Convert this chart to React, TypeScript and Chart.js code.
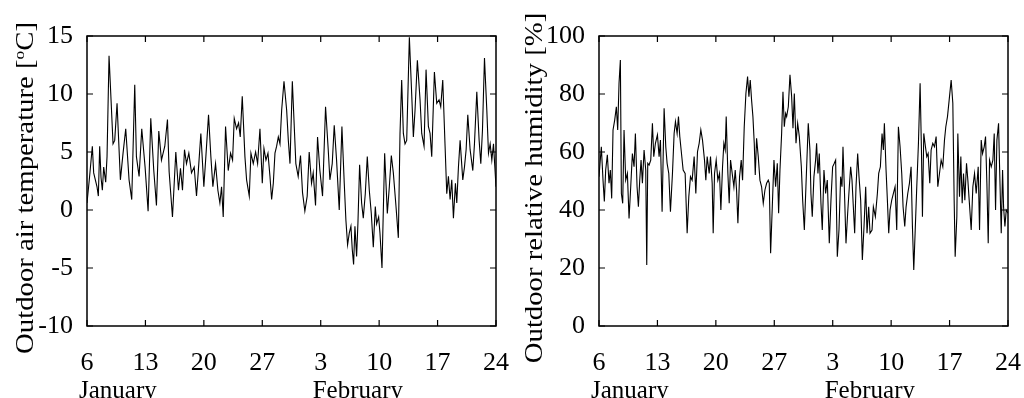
import React, { useEffect, useRef } from 'react';
import { Chart, registerables } from 'chart.js';

Chart.register(...registerables);

// ---- axis labels ----
const dayTickLabels = ['6', '13', '20', '27', '3', '10', '17', '24'];
const monthLabels = ['January', 'February'];
const monthTickDays = [0, 28];

// ---- outdoor air temperature (days after 6 January, °C) ----
const tempDays = [
  0, 0.3, 0.64, 0.8, 1.2, 1.36, 1.52, 1.68, 1.84, 2.0, 2.24, 2.4, 2.64, 3.12, 3.32, 3.6, 4.0, 4.32, 4.64, 5.04,
  5.36, 5.72, 5.92, 6.24, 6.56, 6.96, 7.32, 7.64, 8.0, 8.32, 8.6, 8.92, 9.32, 9.64, 9.84, 10.24, 10.64, 10.96, 11.2, 11.44,
  11.68, 11.92, 12.2, 12.52, 12.84, 13.12, 13.32, 13.64, 14.0, 14.24, 14.56, 14.84, 15.08, 15.4, 15.68, 15.92, 16.12, 16.32, 16.6, 16.92,
  17.2, 17.44, 17.64, 17.92, 18.16, 18.36, 18.6, 18.92, 19.12, 19.44, 19.64, 19.92, 20.2, 20.44, 20.72, 21.0, 21.2, 21.44, 21.68, 21.92,
  22.12, 22.32, 22.52, 22.72, 22.92, 23.12, 23.32, 23.6, 23.92, 24.12, 24.32, 24.6, 25.02, 25.3, 25.58, 25.82, 26.1, 26.38, 26.62, 26.9,
  27.1, 27.38, 27.62, 27.9, 28.22, 28.58, 28.9, 29.1, 29.38, 29.62, 29.9, 30.22, 30.54, 30.82, 31.02, 31.22, 31.42, 31.62, 31.78, 31.94,
  32.1, 32.3, 32.46, 32.66, 32.9, 33.1, 33.34, 33.58, 33.82, 34.06, 34.3, 34.54, 34.7, 34.94, 35.1, 35.34, 35.66, 35.98, 36.22, 36.46,
  36.7, 37.02, 37.3, 37.5, 37.7, 37.9, 38.1, 38.3, 38.62, 38.9, 39.1, 39.3, 39.58, 39.9, 40.1, 40.38, 40.62, 40.9, 41.1, 41.3,
  41.62, 41.9, 42.18, 42.38, 42.62, 42.9, 43.1, 43.3, 43.5, 43.7, 43.9, 44.14, 44.3, 44.5, 44.7, 45.02, 45.22, 45.42, 45.62, 45.9,
  46.22, 46.42, 46.7, 46.98, 47.18, 47.38, 47.62, 47.9, 48.1, 48.3, 48.5, 48.7, 48.86, 49.0,
];
const tempValues = [
  0.6, 2.8, 5.5, 3.2, 2.0, 1.2, 5.5, 2.8, 1.7, 3.7, 2.4, 4.6, 13.3, 5.7, 6.0, 9.2, 2.6, 4.9, 7.0, 2.6,
  0.9, 10.8, 4.6, 2.9, 7.0, 3.7, -0.1, 7.9, 3.4, 0.4, 6.8, 4.3, 5.5, 7.8, 3.3, -0.6, 5.0, 1.7, 3.6, 1.7,
  5.2, 4.0, 4.9, 3.2, 3.7, 1.2, 3.2, 6.6, 2.0, 4.6, 8.2, 4.6, 2.0, 4.0, 1.7, 0.6, 2.0, -0.6, 7.2, 3.4,
  4.9, 4.3, 7.9, 7.0, 7.5, 6.3, 9.8, 4.6, 2.6, 1.2, 4.9, 4.0, 5.0, 4.0, 7.0, 2.3, 5.3, 4.3, 4.9, 2.9,
  0.9, 2.3, 4.9, 5.5, 6.3, 5.7, 8.6, 11.1, 8.6, 6.0, 4.0, 11.1, 4.0, 2.9, 4.7, 1.5, -0.1, 1.2, 5.0, 2.3,
  3.2, 0.4, 6.3, 3.4, 1.2, 8.9, 5.2, 2.6, 4.0, 7.3, 4.3, 0.0, 7.2, 2.3, -0.9, -3.0, -2.0, -1.4, -3.4, -4.7,
  -1.4, -4.0, -1.1, 3.9, 0.6, -0.7, 1.4, 4.6, 1.7, -0.3, -3.2, 0.3, -1.2, -0.6, -2.0, -5.0, 4.9, -0.3, 2.0, 4.7,
  3.2, 0.3, -2.4, 6.6, 11.2, 6.6, 5.7, 6.0, 14.9, 10.0, 6.3, 8.6, 12.9, 9.5, 6.6, 5.5, 12.1, 7.2, 6.6, 4.6,
  11.9, 9.2, 9.5, 8.9, 11.2, 5.5, 1.4, 2.9, 0.9, 2.6, -0.7, 2.3, 0.6, 3.7, 6.0, 2.6, 3.7, 5.2, 8.2, 5.2,
  3.4, 5.7, 10.2, 6.0, 4.0, 6.9, 13.1, 8.6, 4.9, 5.7, 4.3, 5.7, 3.7, 2.0,
];

// ---- outdoor relative humidity (days after 6 January, %) ----
const humDays = [
  0, 0.28, 0.48, 0.64, 0.8, 1.0, 1.2, 1.36, 1.52, 1.68, 1.88, 2.08, 2.24, 2.4, 2.56, 2.68, 2.84, 3.0, 3.2, 3.4,
  3.6, 3.8, 4.0, 4.2, 4.36, 4.56, 4.72, 4.88, 5.04, 5.2, 5.4, 5.6, 5.72, 5.84, 6.0, 6.2, 6.4, 6.56, 6.76, 7.0,
  7.2, 7.36, 7.56, 7.8, 8.0, 8.16, 8.36, 8.56, 8.8, 9.0, 9.16, 9.36, 9.52, 9.68, 9.84, 10.08, 10.32, 10.56, 10.76, 10.96,
  11.16, 11.4, 11.6, 11.8, 12.0, 12.2, 12.4, 12.64, 12.8, 12.96, 13.2, 13.36, 13.56, 13.68, 13.84, 14.04, 14.24, 14.44, 14.6, 14.8,
  14.96, 15.12, 15.24, 15.44, 15.6, 15.76, 15.96, 16.16, 16.32, 16.48, 16.64, 16.84, 17.04, 17.2, 17.4, 17.6, 17.8, 17.96, 18.12, 18.28,
  18.44, 18.6, 18.72, 18.88, 19.08, 19.28, 19.48, 19.68, 19.88, 20.08, 20.28, 20.4, 20.56, 20.76, 20.96, 21.16, 21.36, 21.52, 21.68, 21.88,
  22.04, 22.2, 22.36, 22.48, 22.68, 22.88, 23.08, 23.24, 23.4, 23.6, 23.8, 24.0, 24.24, 24.4, 24.6, 24.79, 25.07, 25.27, 25.39, 25.55,
  25.75, 25.95, 26.07, 26.23, 26.39, 26.59, 26.75, 26.95, 27.15, 27.35, 27.59, 27.79, 27.99, 28.19, 28.35, 28.55, 28.75, 28.95, 29.11, 29.23,
  29.39, 29.59, 29.79, 29.99, 30.15, 30.31, 30.47, 30.63, 30.79, 30.99, 31.15, 31.35, 31.55, 31.75, 31.95, 32.11, 32.31, 32.47, 32.71, 32.87,
  33.11, 33.35, 33.51, 33.71, 33.91, 34.07, 34.19, 34.39, 34.55, 34.71, 34.87, 35.07, 35.27, 35.47, 35.67, 35.87, 36.07, 36.27, 36.43, 36.63,
  36.79, 36.99, 37.19, 37.39, 37.55, 37.71, 37.87, 38.07, 38.27, 38.47, 38.63, 38.75, 38.91, 39.11, 39.27, 39.43, 39.63, 39.79, 39.99, 40.19,
  40.39, 40.59, 40.79, 40.99, 41.19, 41.39, 41.55, 41.75, 41.95, 42.19, 42.39, 42.55, 42.67, 42.87, 42.99, 43.19, 43.35, 43.51, 43.67, 43.83,
  44.03, 44.19, 44.35, 44.59, 44.79, 44.99, 45.19, 45.43, 45.59, 45.79, 45.95, 46.15, 46.31, 46.47, 46.63, 46.79, 46.99, 47.19, 47.35, 47.51,
  47.67, 47.87, 47.99, 48.19, 48.35, 48.47, 48.63, 48.79, 49.0,
];
const humValues = [
  51.5, 61.8, 50.3, 42.9, 53.8, 59.0, 49.2, 53.8, 44.0, 67.6, 71.0, 75.6, 67.6, 83.7, 91.7, 45.7, 42.3, 67.6, 50.3, 52.6,
  37.1, 48.0, 59.5, 54.9, 66.4, 48.0, 41.1, 50.3, 57.2, 49.2, 60.7, 53.8, 21.0, 56.1, 55.5, 57.2, 69.9, 58.4, 63.0, 65.9,
  58.4, 64.1, 39.4, 75.1, 61.8, 56.1, 52.6, 39.4, 52.6, 66.4, 70.5, 66.4, 72.2, 65.3, 60.7, 53.8, 52.6, 32.0, 44.6, 51.5,
  50.3, 58.4, 45.7, 60.1, 63.0, 67.6, 64.1, 57.2, 50.3, 58.4, 52.6, 58.4, 49.2, 32.0, 52.6, 57.2, 50.3, 52.6, 40.0, 54.9,
  63.0, 60.7, 72.2, 52.6, 42.3, 57.2, 52.6, 48.0, 53.8, 46.9, 35.4, 51.5, 57.2, 50.3, 68.7, 80.2, 86.0, 79.1, 84.8, 77.9,
  72.2, 63.0, 52.1, 64.7, 58.4, 50.3, 48.0, 42.3, 46.9, 49.2, 50.3, 49.2, 25.1, 41.1, 57.2, 48.0, 56.1, 38.9, 53.8, 66.4,
  80.8, 68.7, 73.3, 72.2, 75.6, 86.6, 79.1, 68.2, 80.2, 63.0, 69.9, 65.3, 54.9, 43.4, 33.1, 48.0, 69.9, 60.7, 45.7, 37.7,
  51.5, 57.2, 63.0, 52.6, 59.5, 42.3, 33.1, 53.8, 45.7, 50.3, 28.5, 43.4, 54.9, 56.1, 57.2, 23.9, 33.1, 51.5, 48.0, 61.8,
  48.0, 28.5, 38.9, 48.0, 54.9, 50.3, 41.1, 32.0, 48.0, 59.5, 51.5, 43.4, 22.8, 34.3, 48.0, 32.0, 41.1, 32.0, 33.1, 41.1,
  37.7, 45.7, 52.6, 54.9, 66.4, 60.7, 69.9, 53.8, 43.4, 32.0, 40.0, 43.4, 45.7, 48.0, 33.1, 68.7, 61.8, 52.6, 41.1, 34.3,
  41.1, 45.7, 49.2, 54.9, 34.3, 19.3, 32.0, 48.0, 63.0, 83.7, 60.7, 37.7, 66.4, 61.8, 58.4, 59.5, 49.2, 60.7, 63.0, 61.8,
  65.3, 48.0, 52.6, 57.2, 54.9, 64.1, 68.7, 72.2, 77.9, 84.8, 76.8, 43.4, 23.9, 37.7, 66.4, 44.6, 58.4, 42.3, 52.6, 43.4,
  56.1, 50.3, 43.4, 33.1, 48.0, 52.6, 45.7, 54.9, 33.1, 64.1, 59.5, 61.8, 65.3, 49.2, 28.5, 57.2, 54.9, 57.2, 66.4, 40.0,
  64.1, 69.9, 54.9, 32.0, 53.8, 41.1, 34.3, 40.0, 38.9,
];

const SERIF = '"Liberation Serif", "Times New Roman", serif';

type TitlePart = { text: string; sup?: boolean };

const framePlugin = {
  id: 'frameDeco',
  afterDraw(chart: any, _args: any, opts: any) {
    const { ctx, chartArea: a, scales } = chart;
    const xs = scales.x;
    const ys = scales.y;
    ctx.save();
    // frame
    ctx.strokeStyle = '#000';
    ctx.lineWidth = 1.5;
    ctx.strokeRect(a.left, a.top, a.right - a.left, a.bottom - a.top);
    // inward ticks on all four sides
    const tl = 6;
    ctx.lineWidth = 1.2;
    ctx.beginPath();
    xs.ticks.forEach((t: any) => {
      const px = xs.getPixelForValue(t.value);
      ctx.moveTo(px, a.bottom);
      ctx.lineTo(px, a.bottom - tl);
      ctx.moveTo(px, a.top);
      ctx.lineTo(px, a.top + tl);
    });
    ys.ticks.forEach((t: any) => {
      const py = ys.getPixelForValue(t.value);
      ctx.moveTo(a.left, py);
      ctx.lineTo(a.left + tl, py);
      ctx.moveTo(a.right, py);
      ctx.lineTo(a.right - tl, py);
    });
    ctx.stroke();

    // month labels
    ctx.fillStyle = '#000';
    ctx.font = `25px ${SERIF}`;
    ctx.textAlign = 'left';
    ctx.textBaseline = 'alphabetic';
    monthLabels.forEach((m, i) => {
      ctx.fillText(m, xs.getPixelForValue(monthTickDays[i]) - 8, 398);
    });

    // rotated y title
    const parts: TitlePart[] = opts.titleParts;
    const stretch = opts.stretch;
    const mainFont = `25px ${SERIF}`;
    const supFont = `15px ${SERIF}`;
    let total = 0;
    const widths = parts.map((p) => {
      ctx.font = p.sup ? supFont : mainFont;
      const w = ctx.measureText(p.text).width;
      total += w;
      return w;
    });
    const cy = (a.top + a.bottom) / 2 + 7;
    ctx.translate(opts.baselineX, cy);
    ctx.rotate(-Math.PI / 2);
    ctx.scale(stretch, 1);
    let x = -total / 2;
    parts.forEach((p, i) => {
      ctx.font = p.sup ? supFont : mainFont;
      ctx.fillText(p.text, x, p.sup ? -9 : 0);
      x += widths[i];
    });
    ctx.restore();
  },
};

type PanelProps = {
  days: number[];
  values: number[];
  yMin: number;
  yMax: number;
  yStep: number;
  titleParts: TitlePart[];
  baselineX: number;
  left: number;
};

function Panel({ days, values, yMin, yMax, yStep, titleParts, baselineX, left }: PanelProps) {
  const ref = useRef<HTMLCanvasElement | null>(null);
  useEffect(() => {
    if (!ref.current) return;
    const chart = new Chart(ref.current, {
      type: 'line',
      data: {
        datasets: [
          {
            data: days.map((d, i) => ({ x: d, y: values[i] })),
            borderColor: '#000',
            borderWidth: 1.1,
            pointRadius: 0,
            tension: 0,
            fill: false,
          },
        ],
      },
      options: {
        responsive: false,
        animation: false,
        events: [],
        layout: { padding: { left: 0, top: 36, right: 0, bottom: 0 } },
        plugins: {
          legend: { display: false },
          tooltip: { enabled: false },
          frameDeco: { titleParts, baselineX, stretch: 1.15 },
        } as any,
        scales: {
          x: {
            type: 'linear',
            min: 0,
            max: 49,
            grid: { display: false },
            border: { display: false },
            ticks: {
              stepSize: 7,
              autoSkip: false,
              maxRotation: 0,
              padding: 14,
              color: '#000',
              font: { family: SERIF, size: 26 },
              callback: (v: any) => dayTickLabels[Math.round(Number(v) / 7)] ?? '',
            },
            afterFit: (s: any) => {
              s.height = 72;
              s.paddingLeft = 0;
              s.paddingRight = 16;
            },
          },
          y: {
            min: yMin,
            max: yMax,
            grid: { display: false },
            border: { display: false },
            ticks: {
              stepSize: yStep,
              padding: 6,
              color: '#000',
              font: { family: SERIF, size: 26 },
            },
            afterFit: (s: any) => {
              s.width = 87;
              s.paddingTop = 0;
              s.paddingBottom = 0;
            },
          },
        },
      },
      plugins: [framePlugin],
    });
    return () => chart.destroy();
  }, []);
  return (
    <div style={{ position: 'absolute', left, top: 0, width: 512, height: 398 }}>
      <canvas ref={ref} width={512} height={398} style={{ width: 512, height: 398, display: 'block' }} />
    </div>
  );
}

export default function App() {
  return (
    <div style={{ position: 'absolute', left: 0, top: 0, width: 1024, height: 398, background: '#fff', overflow: 'hidden' }}>
      <Panel
        days={tempDays}
        values={tempValues}
        yMin={-10}
        yMax={15}
        yStep={5}
        titleParts={[{ text: 'Outdoor air temperature [' }, { text: 'o', sup: true }, { text: 'C]' }]}
        baselineX={33}
        left={0}
      />
      <Panel
        days={humDays}
        values={humValues}
        yMin={0}
        yMax={100}
        yStep={20}
        titleParts={[{ text: 'Outdoor relative humidity [%]' }]}
        baselineX={30}
        left={512}
      />
    </div>
  );
}
